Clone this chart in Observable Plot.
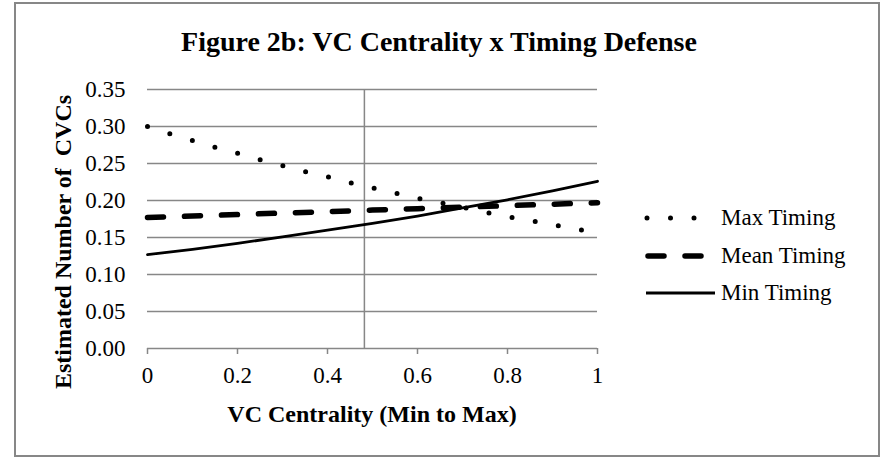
<!DOCTYPE html>
<html>
<head>
<meta charset="utf-8">
<script src="https://cdn.jsdelivr.net/npm/d3@7"></script>
<script src="https://cdn.jsdelivr.net/npm/@observablehq/plot@0.6"></script>
<style>
  html, body { margin: 0; padding: 0; background: white; }
  #chart { position: relative; width: 881px; height: 457px; }
  #chart svg, #chart svg text { font-family: "Liberation Serif", "Times New Roman", serif !important; }
</style>
</head>
<body>
<div id="chart"></div>
<script>
// ---- data ----
const title = "Figure 2b: VC Centrality x Timing Defense";
const xTitle = "VC Centrality (Min to Max)";
const yTitle = "Estimated Number of  CVCs";
const seriesNames = ["Max Timing", "Mean Timing", "Min Timing"];

const xMax = [0, 0.05, 0.1, 0.15, 0.2, 0.25, 0.3, 0.35, 0.4, 0.45, 0.5, 0.55, 0.6, 0.65, 0.7, 0.75, 0.8, 0.85, 0.9, 0.95, 1];
const maxTiming = [0.300, 0.290, 0.281, 0.272, 0.264, 0.255, 0.247, 0.239, 0.232, 0.224, 0.217, 0.210, 0.203, 0.197, 0.191, 0.184, 0.178, 0.173, 0.167, 0.162, 0.156];

const xTen = [0, 0.1, 0.2, 0.3, 0.4, 0.5, 0.6, 0.7, 0.8, 0.9, 1];
const meanTiming = [0.177, 0.179, 0.181, 0.183, 0.185, 0.187, 0.189, 0.191, 0.193, 0.195, 0.197];
const minTiming = [0.127, 0.134, 0.142, 0.151, 0.160, 0.169, 0.179, 0.190, 0.201, 0.213, 0.226];

const xTicks = [0, 0.2, 0.4, 0.6, 0.8, 1];
const yTicks = [0, 0.05, 0.10, 0.15, 0.20, 0.25, 0.30, 0.35];
const verticalRef = [0.482];

// ---- tables ----
const maxData = xMax.map((x, i) => ({x, y: maxTiming[i]}));
const meanData = xTen.map((x, i) => ({x, y: meanTiming[i]}));
const minData = xTen.map((x, i) => ({x, y: minTiming[i]}));

const gridColor = "#878787";
const font = "Liberation Serif";

const styles = {
  max: {stroke: "black", strokeWidth: 5, strokeDasharray: "0,23.5", strokeLinecap: "round"},
  mean: {stroke: "black", strokeWidth: 5.5, strokeDasharray: "16,21", strokeLinecap: "round"},
  min: {stroke: "black", strokeWidth: 2.8}
};

const plot = Plot.plot({
  width: 881,
  height: 457,
  marginLeft: 147,
  marginRight: 284,
  marginTop: 89,
  marginBottom: 109,
  x: {domain: [0, 1]},
  y: {domain: [0, 0.35]},
  style: {fontFamily: font, background: "white", color: "black", overflow: "visible"},
  marks: [
    Plot.gridY(yTicks, {stroke: gridColor, strokeOpacity: 1, strokeWidth: 1.5}),
    Plot.ruleX(verticalRef, {stroke: gridColor, strokeWidth: 1.5}),
    Plot.axisY(yTicks, {tickSize: 0, tickPadding: 22, fontSize: 23, tickFormat: d => d.toFixed(2), label: null}),
    Plot.axisX(xTicks, {tickSize: 6, stroke: gridColor, strokeWidth: 1.5, fontSize: 23, tickPadding: 12, tickFormat: d => String(d), label: null}),
    Plot.line(minData, {x: "x", y: "y", ...styles.min}),
    Plot.line(meanData, {x: "x", y: "y", ...styles.mean}),
    Plot.line(maxData, {x: "x", y: "y", ...styles.max})
  ]
});

document.getElementById("chart").appendChild(plot);

const svg = d3.select(plot);

// border
svg.append("rect")
  .attr("x", 15).attr("y", 3).attr("width", 864).attr("height", 453)
  .attr("fill", "none").attr("stroke", gridColor).attr("stroke-width", 2);

// title
svg.append("text")
  .attr("x", 439).attr("y", 51)
  .attr("text-anchor", "middle")
  .style("font-size", "28px").style("font-weight", "bold")
  .text(title);

// x title
svg.append("text")
  .attr("x", 372).attr("y", 422)
  .attr("text-anchor", "middle")
  .style("font-size", "24px").style("font-weight", "bold")
  .text(xTitle);

// y title
svg.append("text")
  .attr("transform", "translate(71,242) rotate(-90)")
  .attr("text-anchor", "middle")
  .style("font-size", "24px").style("font-weight", "bold")
  .style("white-space", "pre")
  .text(yTitle);

// legend
const legendRows = [
  {name: seriesNames[0], y: 218, x1: 647, style: styles.max},
  {name: seriesNames[1], y: 256, x1: 648, style: styles.mean},
  {name: seriesNames[2], y: 293, x1: 646, style: styles.min}
];
legendRows.forEach(r => {
  svg.append("line")
    .attr("x1", r.x1).attr("x2", 715).attr("y1", r.y).attr("y2", r.y)
    .attr("stroke", r.style.stroke)
    .attr("stroke-width", r.style.strokeWidth)
    .attr("stroke-dasharray", r.style.strokeDasharray || null)
    .attr("stroke-linecap", r.style.strokeLinecap || "butt");
  svg.append("text")
    .attr("x", 721).attr("y", r.y + 7)
    .attr("text-anchor", "start")
    .style("font-size", "23px")
    .text(r.name);
});
</script>
</body>
</html>
